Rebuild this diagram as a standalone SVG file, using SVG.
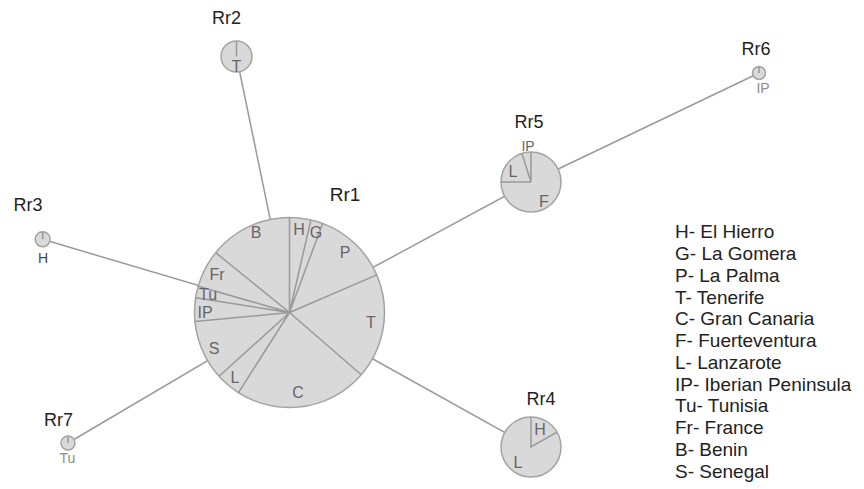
<svg xmlns="http://www.w3.org/2000/svg" width="864" height="489" viewBox="0 0 864 489">
<style>
.edge{stroke:#9a9a9a;stroke-width:1.5;fill:none}
.pie{fill:#d9d9d9;stroke:#a3a3a3;stroke-width:1.5}
.sl{stroke:#999;stroke-width:1.5;fill:none}
.name{font-family:"Liberation Sans",Arial,sans-serif;font-size:18px;fill:#222;text-anchor:middle}
.pl{font-family:"Liberation Sans",Arial,sans-serif;font-size:16px;fill:#666;text-anchor:middle}
.sm{font-family:"Liberation Sans",Arial,sans-serif;font-size:14px;fill:#777;text-anchor:middle}
.leg{font-family:"Liberation Sans",Arial,sans-serif;font-size:19px;fill:#222}
</style>
<rect width="864" height="489" fill="#fff"/>
<g id="connectors">
<line class="edge" x1="289.5" y1="312.5" x2="236.5" y2="56.5"/>
<line class="edge" x1="289.5" y1="312.5" x2="42.7" y2="239.3"/>
<line class="edge" x1="289.5" y1="312.5" x2="68" y2="443"/>
<line class="edge" x1="289.5" y1="312.5" x2="531" y2="182"/>
<line class="edge" x1="289.5" y1="312.5" x2="531" y2="447"/>
<line class="edge" x1="531" y1="182" x2="759" y2="73"/>
</g>
<g id="Rr1">
<circle class="pie" cx="289.5" cy="312.5" r="95"/>
<path class="sl" d="M289.5 312.5L289.5 217.5M289.5 312.5L310.9 219.9M289.5 312.5L322.6 223.5M289.5 312.5L376.8 274.9M289.5 312.5L361.2 374.8M289.5 312.5L238.5 392.6M289.5 312.5L219.1 376.3M289.5 312.5L194.9 321.6M289.5 312.5L195.6 297.8M289.5 312.5L198.2 286.3M289.5 312.5L215.7 252.7"/>
<text class="name" x="345" y="201" style="font-size:19px">Rr1</text>
<text class="pl" x="256" y="238">B</text>
<text class="pl" x="299" y="235">H</text>
<text class="pl" x="316" y="238">G</text>
<text class="pl" x="345" y="258">P</text>
<text class="pl" x="371" y="328">T</text>
<text class="pl" x="298" y="398">C</text>
<text class="pl" x="235" y="383">L</text>
<text class="pl" x="214" y="354">S</text>
<text class="pl" x="205" y="318">IP</text>
<text class="pl" x="208" y="300">Tu</text>
<text class="pl" x="217" y="280">Fr</text>
</g>
<g id="Rr2">
<circle class="pie" cx="236.5" cy="56.5" r="15.5"/>
<line class="sl" x1="236.5" y1="56.5" x2="236.5" y2="41"/>
<text class="pl" x="236.5" y="72">T</text>
<text class="name" x="226.5" y="24">Rr2</text>
</g>
<g id="Rr3">
<circle class="pie" cx="42.7" cy="239.3" r="7.5"/>
<line class="sl" x1="42.7" y1="239.3" x2="42.7" y2="232"/>
<text class="sm" x="43" y="263" style="fill:#444">H</text>
<text class="name" x="28" y="211">Rr3</text>
</g>
<g id="Rr4">
<circle class="pie" cx="531" cy="447" r="30"/>
<path class="sl" d="M531 417L531 447L557 432.1"/>
<text class="pl" x="540" y="435">H</text>
<text class="pl" x="518" y="468">L</text>
<text class="name" x="541" y="405">Rr4</text>
</g>
<g id="Rr5">
<circle class="pie" cx="531" cy="182" r="30"/>
<path class="sl" d="M531 152L531 182L521.9 153.4M531 182L501 182"/>
<text class="pl" x="528" y="151" style="font-size:14px">IP</text>
<text class="pl" x="513" y="177">L</text>
<text class="pl" x="544" y="207">F</text>
<text class="name" x="529" y="128">Rr5</text>
</g>
<g id="Rr6">
<circle class="pie" cx="759" cy="73" r="6.5"/>
<line class="sl" x1="759" y1="73" x2="759" y2="66.5"/>
<text class="sm" x="763" y="93" style="fill:#8a8a8a">IP</text>
<text class="name" x="756" y="55">Rr6</text>
</g>
<g id="Rr7">
<circle class="pie" cx="68" cy="443" r="7"/>
<line class="sl" x1="68" y1="443" x2="68" y2="436"/>
<text class="sm" x="67.5" y="463" style="fill:#8a8a8a">Tu</text>
<text class="name" x="58.5" y="426">Rr7</text>
</g>
<g id="legend">
<text class="leg" x="675" y="238.3">H- El Hierro</text>
<text class="leg" x="675" y="260">G- La Gomera</text>
<text class="leg" x="675" y="281.8">P- La Palma</text>
<text class="leg" x="675" y="303.5">T- Tenerife</text>
<text class="leg" x="675" y="325.3">C- Gran Canaria</text>
<text class="leg" x="675" y="347">F- Fuerteventura</text>
<text class="leg" x="675" y="368.8">L- Lanzarote</text>
<text class="leg" x="675" y="390.5">IP- Iberian Peninsula</text>
<text class="leg" x="675" y="412.3">Tu- Tunisia</text>
<text class="leg" x="675" y="434">Fr- France</text>
<text class="leg" x="675" y="455.8">B- Benin</text>
<text class="leg" x="675" y="477.5">S- Senegal</text>
</g>
</svg>
